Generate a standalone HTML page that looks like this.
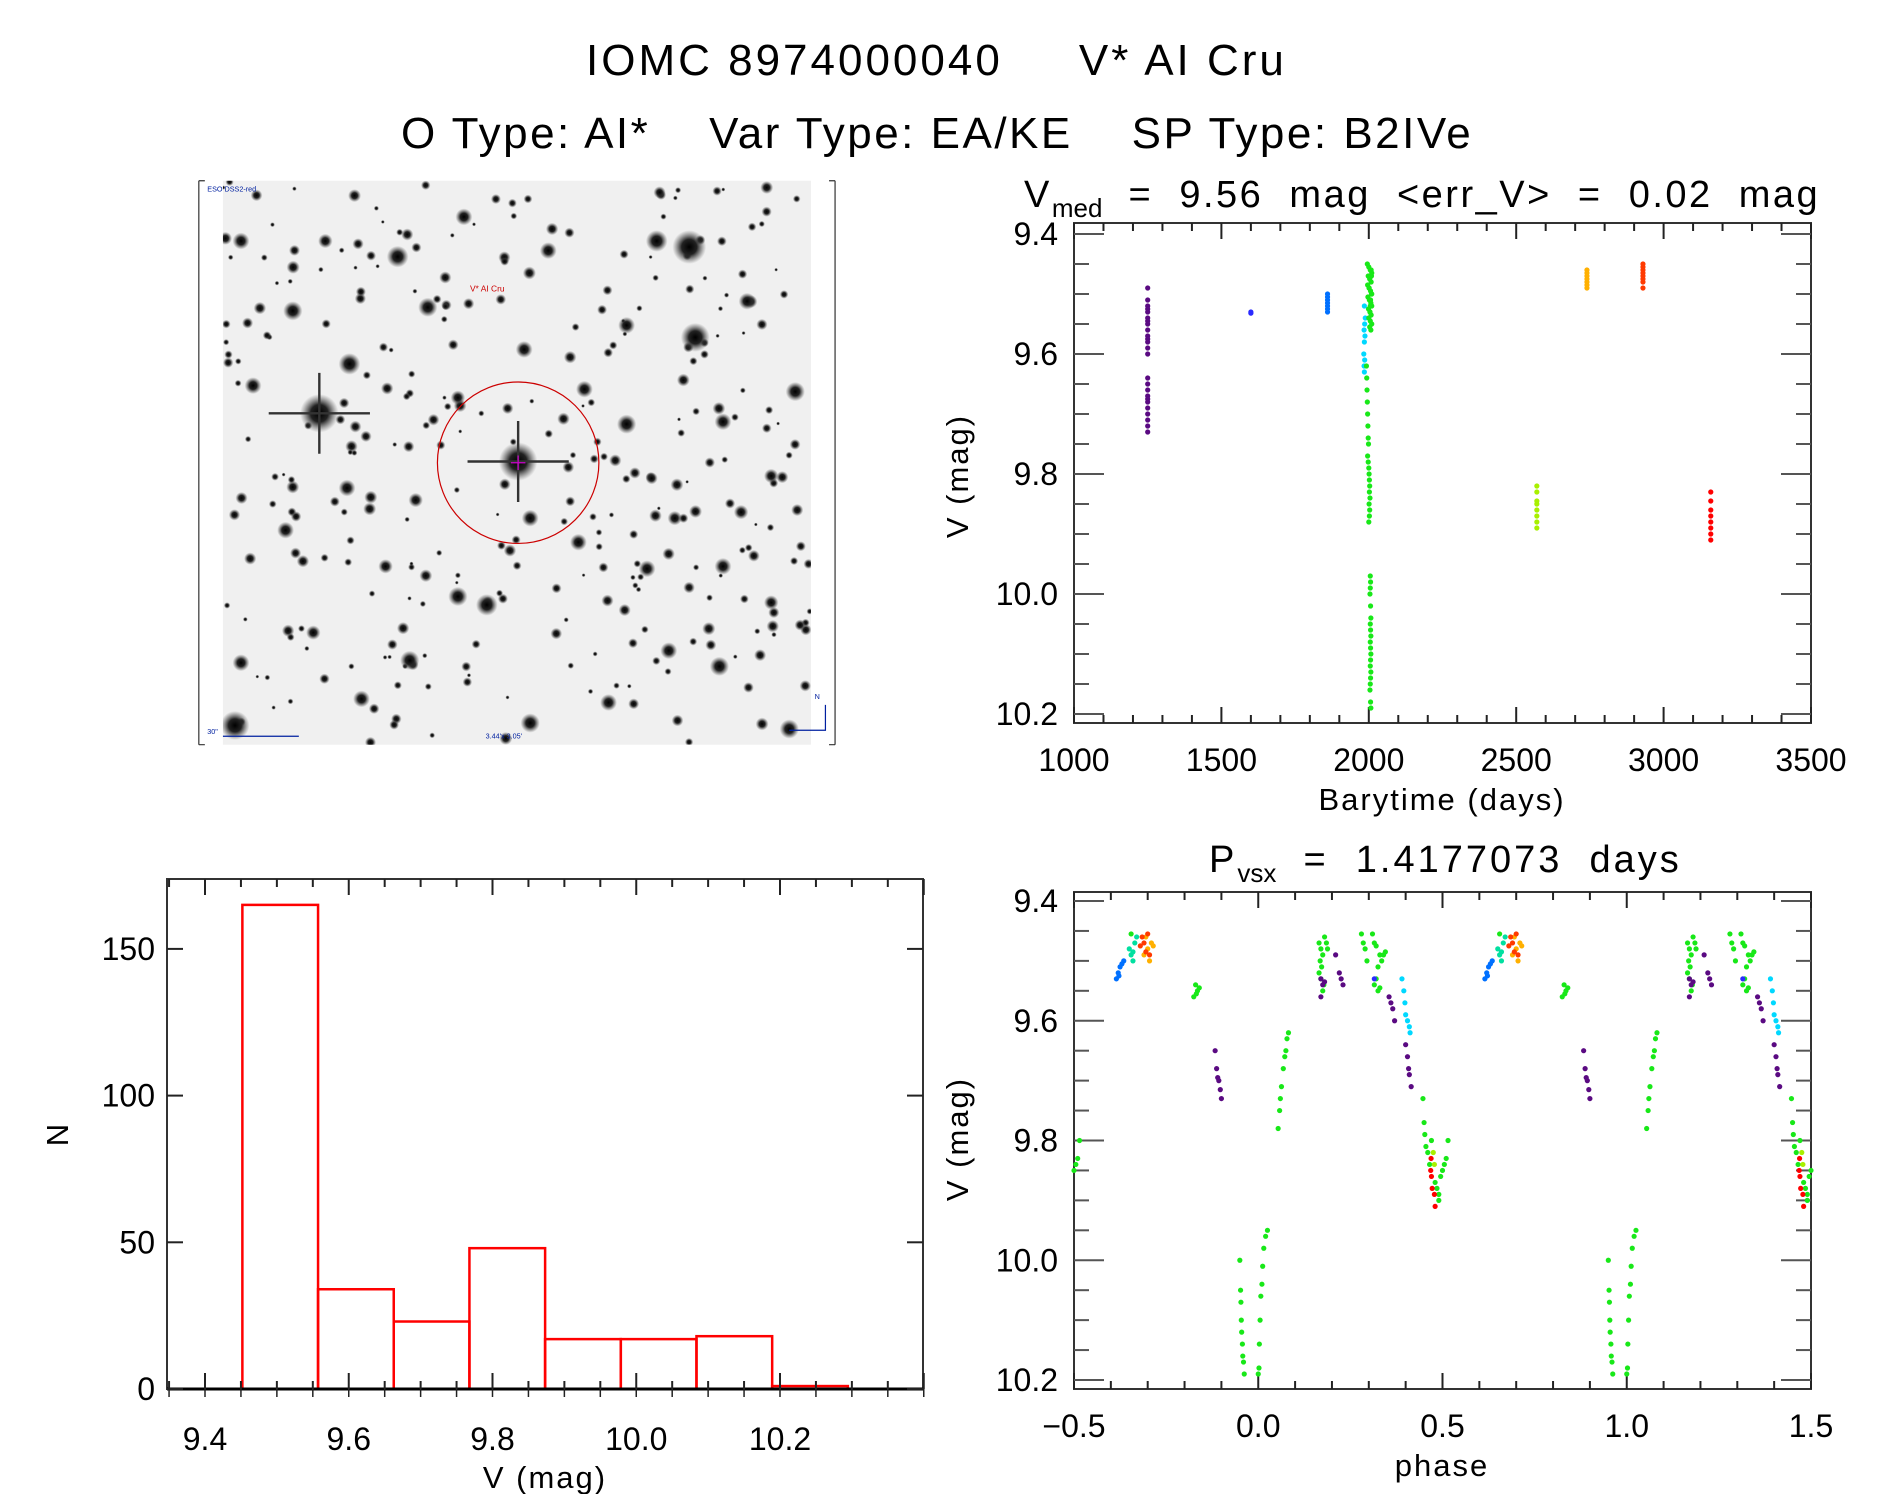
<!DOCTYPE html>
<html><head><meta charset="utf-8"><style>
html,body{margin:0;padding:0;background:#fff}
svg{display:block}
text{font-family:"Liberation Sans",sans-serif;fill:#000;white-space:pre}
</style></head><body>
<svg id="fig" width="1889" height="1494" viewBox="0 0 1889 1494" xmlns="http://www.w3.org/2000/svg">
<rect width="1889" height="1494" fill="#fff"/>
<text x="586" y="75" font-size="44" letter-spacing="3">IOMC 8974000040     V* AI Cru</text>
<text x="401" y="148" font-size="44" letter-spacing="2.5">O Type: AI*    Var Type: EA/KE    SP Type: B2IVe</text>

<g id="img" transform="scale(1.205)">
  <defs>
    <radialGradient id="sg"><stop offset="0" stop-color="#000"/><stop offset="0.45" stop-color="#222"/><stop offset="1" stop-color="#555" stop-opacity="0"/></radialGradient>
    <clipPath id="ic"><rect x="185" y="150" width="488" height="468"/></clipPath>
  </defs>
  <rect x="185" y="150" width="488" height="468" fill="#f0f0f0"/>
  <g id="stars" clip-path="url(#ic)"></g>
  <path d="M165 150 V618 M165 150 h5 M165 618 h5 M693 150 V618 M693 150 h-5 M693 618 h-5" stroke="#333" stroke-width="1" fill="none"/>
  <circle cx="430" cy="384" r="67" fill="none" stroke="#c00" stroke-width="1"/>
  <text x="172" y="159" font-size="6" style="fill:#0020a0">ESO DSS2-red</text>
  <text x="390" y="242" font-size="7" style="fill:#c00">V* AI Cru</text>
  <text x="403" y="613" font-size="6" style="fill:#0020a0">3.44'x 3.05'</text>
  <text x="172" y="609" font-size="6" style="fill:#0020a0">30"</text>
  <path d="M185 611 H248 M685 585 V606 H655" stroke="#0020a0" stroke-width="1" fill="none"/>
  <text x="676" y="580" font-size="6" style="fill:#0020a0">N</text>
</g>

<g id="ts"></g>
<g id="ph"></g>
<g id="hist"></g>
</svg>
<script>
// ---------- time-series data ----------
const tsPurpleT=[1250,1250,1250,1250,1250,1250,1250,1250,1250,1250,1250,1250,1250,1250,1250,1250,1250,1250,1250,1250,1250,1250,1250,1250,1250];
const tsPurpleV=[9.49,9.51,9.52,9.525,9.53,9.54,9.545,9.55,9.56,9.57,9.575,9.58,9.59,9.60,9.64,9.65,9.66,9.67,9.675,9.68,9.69,9.70,9.71,9.72,9.73];
const tsBlue1T=[1600,1600];
const tsBlue1V=[9.53,9.532];
const tsBlue2T=[1860,1860,1860,1860,1860,1860,1860];
const tsBlue2V=[9.50,9.505,9.51,9.515,9.52,9.525,9.53];
const tsCyanT=[1985,1988,1986,1984,1987,1985,1983,1986,1984,1985];
const tsCyanV=[9.52,9.54,9.55,9.56,9.57,9.58,9.60,9.61,9.62,9.63];
const tsGreenT=[1995,2000,2005,2010,1998,2003,2008,1996,2001,2006,2009,1997,2002,2007,2010,1999,2004,2008,2000,2005,2010,2003,2007,2009,2001,2006,2004,2008,2010,2005,
 1992,1993,1994,1995,1996,1997,1998,1999,1996,1998,2000,2001,2002,2003,2002,2004,2001,2003,2002,2000,2005,2006,2005,2004,2006,2007,2005,2006,2007,2005,2006,2007,2006,2005,2007,2006,2005,2004,2006,2007];
const tsGreenV=[9.45,9.455,9.46,9.465,9.47,9.475,9.48,9.485,9.49,9.495,9.50,9.505,9.51,9.515,9.52,9.525,9.53,9.535,9.54,9.545,9.55,9.555,9.56,9.47,9.49,9.51,9.53,9.46,9.50,9.52,
 9.62,9.64,9.66,9.68,9.70,9.72,9.74,9.75,9.77,9.78,9.79,9.80,9.81,9.82,9.83,9.84,9.85,9.86,9.87,9.88,9.97,9.98,9.99,10.00,10.02,10.04,10.05,10.06,10.07,10.08,10.09,10.10,10.11,10.12,10.13,10.14,10.15,10.16,10.18,10.19];
const tsLimeT=[2570,2570,2570,2570,2570,2570,2570,2570];
const tsLimeV=[9.82,9.83,9.845,9.85,9.86,9.87,9.88,9.89];
const tsOrangeT=[2740,2740,2740,2740,2740,2740,2740];
const tsOrangeV=[9.46,9.465,9.47,9.475,9.48,9.485,9.49];
const tsRedOrT=[2930,2930,2930,2930,2930,2930,2930,2930];
const tsRedOrV=[9.45,9.455,9.46,9.465,9.47,9.475,9.48,9.49];
const tsRedT=[3160,3160,3160,3160,3160,3160,3160,3160];
const tsRedV=[9.83,9.845,9.86,9.87,9.88,9.89,9.90,9.91];
const tsXTicks=[1000,1500,2000,2500,3000,3500];
const magTicks=["9.4","9.6","9.8","10.0","10.2"];

// ---------- phase data ----------
const phGreenP=[-0.345,-0.17,-0.165,-0.175,-0.16,-0.168,-0.05,-0.048,-0.047,-0.046,-0.045,-0.043,-0.042,-0.04,-0.038,0.0,0.002,0.003,0.005,0.007,0.01,0.012,0.015,0.02,0.025,0.054,0.058,0.06,0.063,0.068,0.072,0.075,0.078,0.082,
 0.165,0.17,0.18,0.175,0.168,0.172,0.165,0.17,0.178,0.185,0.188,0.175,0.28,0.285,0.29,0.295,0.31,0.315,0.32,0.33,0.335,0.34,0.325,0.32,0.315,0.325,0.33,0.345,
 0.447,0.45,0.452,0.455,0.46,0.465,0.47,0.48,0.485,0.49,0.495,0.5,0.505,0.51,0.515,0.49];
const phGreenV=[9.455,9.54,9.55,9.56,9.545,9.555,10.0,10.05,10.07,10.1,10.12,10.14,10.16,10.17,10.19,10.19,10.18,10.14,10.1,10.06,10.04,10.01,9.98,9.96,9.95,9.78,9.75,9.73,9.71,9.68,9.66,9.65,9.63,9.62,
 9.47,9.48,9.46,9.49,9.5,9.51,9.52,9.53,9.54,9.47,9.48,9.55,9.455,9.47,9.48,9.5,9.455,9.47,9.475,9.49,9.5,9.49,9.51,9.53,9.54,9.55,9.545,9.485,
 9.73,9.77,9.79,9.81,9.82,9.84,9.8,9.87,9.88,9.89,9.86,9.85,9.84,9.83,9.8,9.9];
const phTealP=[-0.35,-0.345,-0.34,-0.33,-0.335,-0.34];
const phTealV=[9.48,9.49,9.5,9.46,9.47,9.485];
const phOrangeP=[-0.29,-0.3,-0.31,-0.295,-0.305,-0.285];
const phOrangeV=[9.47,9.48,9.49,9.5,9.46,9.475];
const phRedOrP=[-0.3,-0.31,-0.32,-0.305,-0.315,-0.295];
const phRedOrV=[9.455,9.47,9.475,9.485,9.46,9.49];
const phBlueP=[-0.385,-0.38,-0.375,-0.37,-0.365,-0.378];
const phBlueV=[9.53,9.52,9.51,9.505,9.5,9.525];
const phDkBlueP=[0.315];
const phDkBlueV=[9.53];
const phPurpleP=[-0.117,-0.113,-0.11,-0.107,-0.103,-0.1,0.17,0.175,0.18,0.17,0.21,0.22,0.225,0.23,0.355,0.36,0.365,0.37,0.4,0.405,0.408,0.41,0.415];
const phPurpleV=[9.65,9.68,9.695,9.7,9.715,9.73,9.53,9.54,9.535,9.56,9.49,9.52,9.53,9.54,9.56,9.57,9.58,9.6,9.64,9.66,9.68,9.69,9.71];
const phCyanP=[0.39,0.395,0.398,0.4,0.405,0.41,0.412];
const phCyanV=[9.53,9.55,9.57,9.59,9.6,9.61,9.62];
const phLimeP=[0.475,0.478];
const phLimeV=[9.82,9.84];
const phRedP=[0.468,0.47,0.472,0.478,0.48,0.469];
const phRedV=[9.85,9.86,9.88,9.89,9.91,9.83];
const phXTicks=["-0.5","0.0","0.5","1.0","1.5"];

// ---------- histogram data ----------
const histCounts=[165,34,23,48,17,17,18,1];
const histStart=9.452;
const histBin=0.1053;
const histXTicks=["9.4","9.6","9.8","10.0","10.2"];
const histYTicks=[0,50,100,150];

const NS="http://www.w3.org/2000/svg";
function mk(tag,attrs,parent){const e=document.createElementNS(NS,tag);for(const k in attrs)e.setAttribute(k,attrs[k]);parent.appendChild(e);return e;}
function line(p,x1,y1,x2,y2,w,c){return mk('line',{x1:x1,y1:y1,x2:x2,y2:y2,stroke:c||'#222','stroke-width':w||2},p);}

// ---------- sky image ----------
(function(){
  const g=document.getElementById('stars');
  const big=[[265,343,16],[430,383,16],[572,205,14],[577,280,12],[545,200,9],[330,213,9],[290,302,9],[243,258,8],[355,255,8],[455,208,7],[520,352,8],[600,350,7],[660,325,8],[404,502,9],[380,495,8],[340,548,8],[237,440,7],[288,405,7],[537,472,7],[600,470,7],[597,553,8],[505,583,7],[195,602,12],[200,550,7],[620,250,7],[485,323,7],[435,290,7],[640,395,6],[260,525,6],[480,450,7],[385,180,7],[200,200,7],[210,320,7],[440,600,8],[655,605,8],[615,425,6],[320,470,6],[555,540,7],[345,415,6],[520,270,7],[270,200,6],[440,430,7],[560,430,6],[380,330,6],[300,580,7],[640,500,6]];
  let s=12345;function r(){s=(s*1103515245+12345)%2147483648;return s/2147483648;}
  for(let i=0;i<300;i++){const c=mk('circle',{cx:185+r()*488,cy:150+r()*468,r:1.5+r()*4,fill:'url(#sg)'},g);}
  big.forEach(b=>{const c=mk('circle',{cx:b[0],cy:b[1],r:b[2],fill:'url(#sg)'},g);});
  [[265,343,42],[430,383,42]].forEach(b=>{
    mk('path',{d:`M${b[0]-b[2]} ${b[1]} H${b[0]+b[2]} M${b[0]} ${b[1]-b[2]*0.8} V${b[1]+b[2]*0.8}`,stroke:'#333','stroke-width':2,fill:'none'},g);
  });
  mk('path',{d:'M424 384 h12 M430 378 v12',stroke:'#c0c',"stroke-width":1},g);
})();

function axesFrame(g,L,R,T,B){mk('rect',{x:L,y:T,width:R-L,height:B-T,fill:'none',stroke:'#333','stroke-width':2},g);}

// ---------- time series panel ----------
(function(){
  const g=document.getElementById('ts');
  const L=1074,R=1811,T=223,B=723;
  const xs=t=>L+(t-1000)/2500*(R-L);
  const ys=v=>234+(v-9.4)/0.8*480;
  axesFrame(g,L,R,T,B);
  for(let t=1000;t<=3500;t+=100){const M=t%500===0;line(g,xs(t),B,xs(t),B-(M?16:8),2);line(g,xs(t),T,xs(t),T+(M?16:8),2);}
  for(let v=9.4;v<=10.2001;v+=0.05){const M=Math.abs(v*5-Math.round(v*5))<1e-6;line(g,L,ys(v),L+(M?30:15),ys(v),2,'#555');line(g,R,ys(v),R-(M?30:15),ys(v),2,'#555');}
  tsXTicks.forEach(t=>{const e=mk('text',{x:xs(t),y:771,'font-size':32,'text-anchor':'middle'},g);e.textContent=t;});
  magTicks.forEach(m=>{const e=mk('text',{x:1058,y:ys(+m)+11,'font-size':32,'text-anchor':'end'},g);e.textContent=m;});
  let e=mk('text',{x:1442,y:810,'font-size':31,'text-anchor':'middle','letter-spacing':2},g);e.textContent='Barytime (days)';
  
  e=mk('text',{x:0,y:0,'font-size':31,'text-anchor':'middle','letter-spacing':2,transform:'translate(968,476) rotate(-90)'},g);e.textContent='V (mag)';
  
  e=mk('text',{x:1024,y:207,'font-size':38,'letter-spacing':2.5},g);
  
  e.innerHTML='V<tspan dy="10" font-size="26" letter-spacing="0">med</tspan><tspan dy="-10">  =  9.56  mag  &lt;err_V&gt;  =  0.02  mag</tspan>';
  const groups=[[tsPurpleT,tsPurpleV,'#5a0a82'],[tsBlue1T,tsBlue1V,'#2a2aff'],[tsBlue2T,tsBlue2V,'#0070ff'],[tsCyanT,tsCyanV,'#00d8ff'],[tsGreenT,tsGreenV,'#18e818'],[tsLimeT,tsLimeV,'#a8f000'],[tsOrangeT,tsOrangeV,'#ffb000'],[tsRedOrT,tsRedOrV,'#ff3a00'],[tsRedT,tsRedV,'#ff0000']];
  groups.forEach(gr=>gr[0].forEach((t,i)=>{const c=mk('circle',{cx:xs(t),cy:ys(gr[1][i]),r:2.6,fill:gr[2]},g);
    }));
})();

// ---------- phase panel ----------
(function(){
  const g=document.getElementById('ph');
  const L=1074,R=1811,T=892,B=1389;
  const xs=p=>L+(p+0.5)/2*(R-L);
  const ys=v=>901+(v-9.4)/0.8*479;
  axesFrame(g,L,R,T,B);
  for(let i=0;i<=20;i++){const p=-0.5+i*0.1;const M=i%5===0;line(g,xs(p),B,xs(p),B-(M?16:8),2);line(g,xs(p),T,xs(p),T+(M?16:8),2);}
  for(let v=9.4;v<=10.2001;v+=0.05){const M=Math.abs(v*5-Math.round(v*5))<1e-6;line(g,L,ys(v),L+(M?30:15),ys(v),2,'#555');line(g,R,ys(v),R-(M?30:15),ys(v),2,'#555');}
  phXTicks.forEach(t=>{const e=mk('text',{x:xs(+t),y:1437,'font-size':32,'text-anchor':'middle'},g);e.textContent=t.replace('-','\u2212');});
  magTicks.forEach(m=>{const e=mk('text',{x:1058,y:ys(+m)+11,'font-size':32,'text-anchor':'end'},g);e.textContent=m;});
  let e=mk('text',{x:1442,y:1476,'font-size':31,'text-anchor':'middle','letter-spacing':2},g);e.textContent='phase';
  
  e=mk('text',{x:0,y:0,'font-size':31,'text-anchor':'middle','letter-spacing':2,transform:'translate(968,1139) rotate(-90)'},g);e.textContent='V (mag)';
  
  e=mk('text',{x:1209,y:872,'font-size':38,'letter-spacing':3},g);
  
  e.innerHTML='P<tspan dy="10" font-size="26" letter-spacing="0">vsx</tspan><tspan dy="-10">  =  1.4177073  days</tspan>';
  const groups=[[phGreenP,phGreenV,'#18e818'],[phTealP,phTealV,'#00e0a0'],[phOrangeP,phOrangeV,'#ffb000'],[phRedOrP,phRedOrV,'#ff3a00'],[phBlueP,phBlueV,'#0070ff'],[phDkBlueP,phDkBlueV,'#2a2aff'],[phPurpleP,phPurpleV,'#5a0a82'],[phCyanP,phCyanV,'#00d8ff'],[phLimeP,phLimeV,'#a8f000'],[phRedP,phRedV,'#ff0000']];
  groups.forEach(gr=>gr[0].forEach((p,i)=>{[-1,0,1].forEach(k=>{const x=p+k;if(x<-0.5||x>1.5)return;
    const c=mk('circle',{cx:xs(x),cy:ys(gr[1][i]),r:2.6,fill:gr[2]},g);
    });}));
})();

// ---------- histogram ----------
(function(){
  const g=document.getElementById('hist');
  const L=167,R=923,T=879,B=1389;
  const xs=v=>205+(v-9.4)*718.75;
  const ys=n=>B-n/50*146.7;
  histCounts.forEach((n,i)=>{const x0=xs(histStart+i*histBin),x1=xs(histStart+(i+1)*histBin);
    const r=mk('rect',{x:x0,y:ys(n),width:x1-x0,height:B-ys(n),fill:'none',stroke:'#f00','stroke-width':2.5},g);
    });
  axesFrame(g,L,R,T,B);
  line(g,L,B,R,B,3,'#000');
  for(let i=0;i<=21;i++){const v=9.35+i*0.05;const x=xs(v);if(x<L-1||x>R+1)continue;const M=Math.abs(v*5-Math.round(v*5))<1e-6;
    line(g,x,B,x,B+(M?-16:-8),2);line(g,x,B,x,B+8,1.5);line(g,x,T,x,T+(M?16:8),2);}
  histYTicks.forEach(n=>{line(g,L,ys(n),L+16,ys(n),2);line(g,R,ys(n),R-16,ys(n),2);
    const e=mk('text',{x:155,y:ys(n)+11,'font-size':32,'text-anchor':'end'},g);e.textContent=n;});
  histXTicks.forEach(t=>{const e=mk('text',{x:xs(+t),y:1450,'font-size':32,'text-anchor':'middle'},g);e.textContent=t;});
  let e=mk('text',{x:545,y:1488,'font-size':31,'text-anchor':'middle','letter-spacing':2},g);e.textContent='V (mag)';
  
  e=mk('text',{x:0,y:0,'font-size':31,'text-anchor':'middle',transform:'translate(68,1135) rotate(-90)'},g);e.textContent='N';
  
})();
</script>
</body></html>
